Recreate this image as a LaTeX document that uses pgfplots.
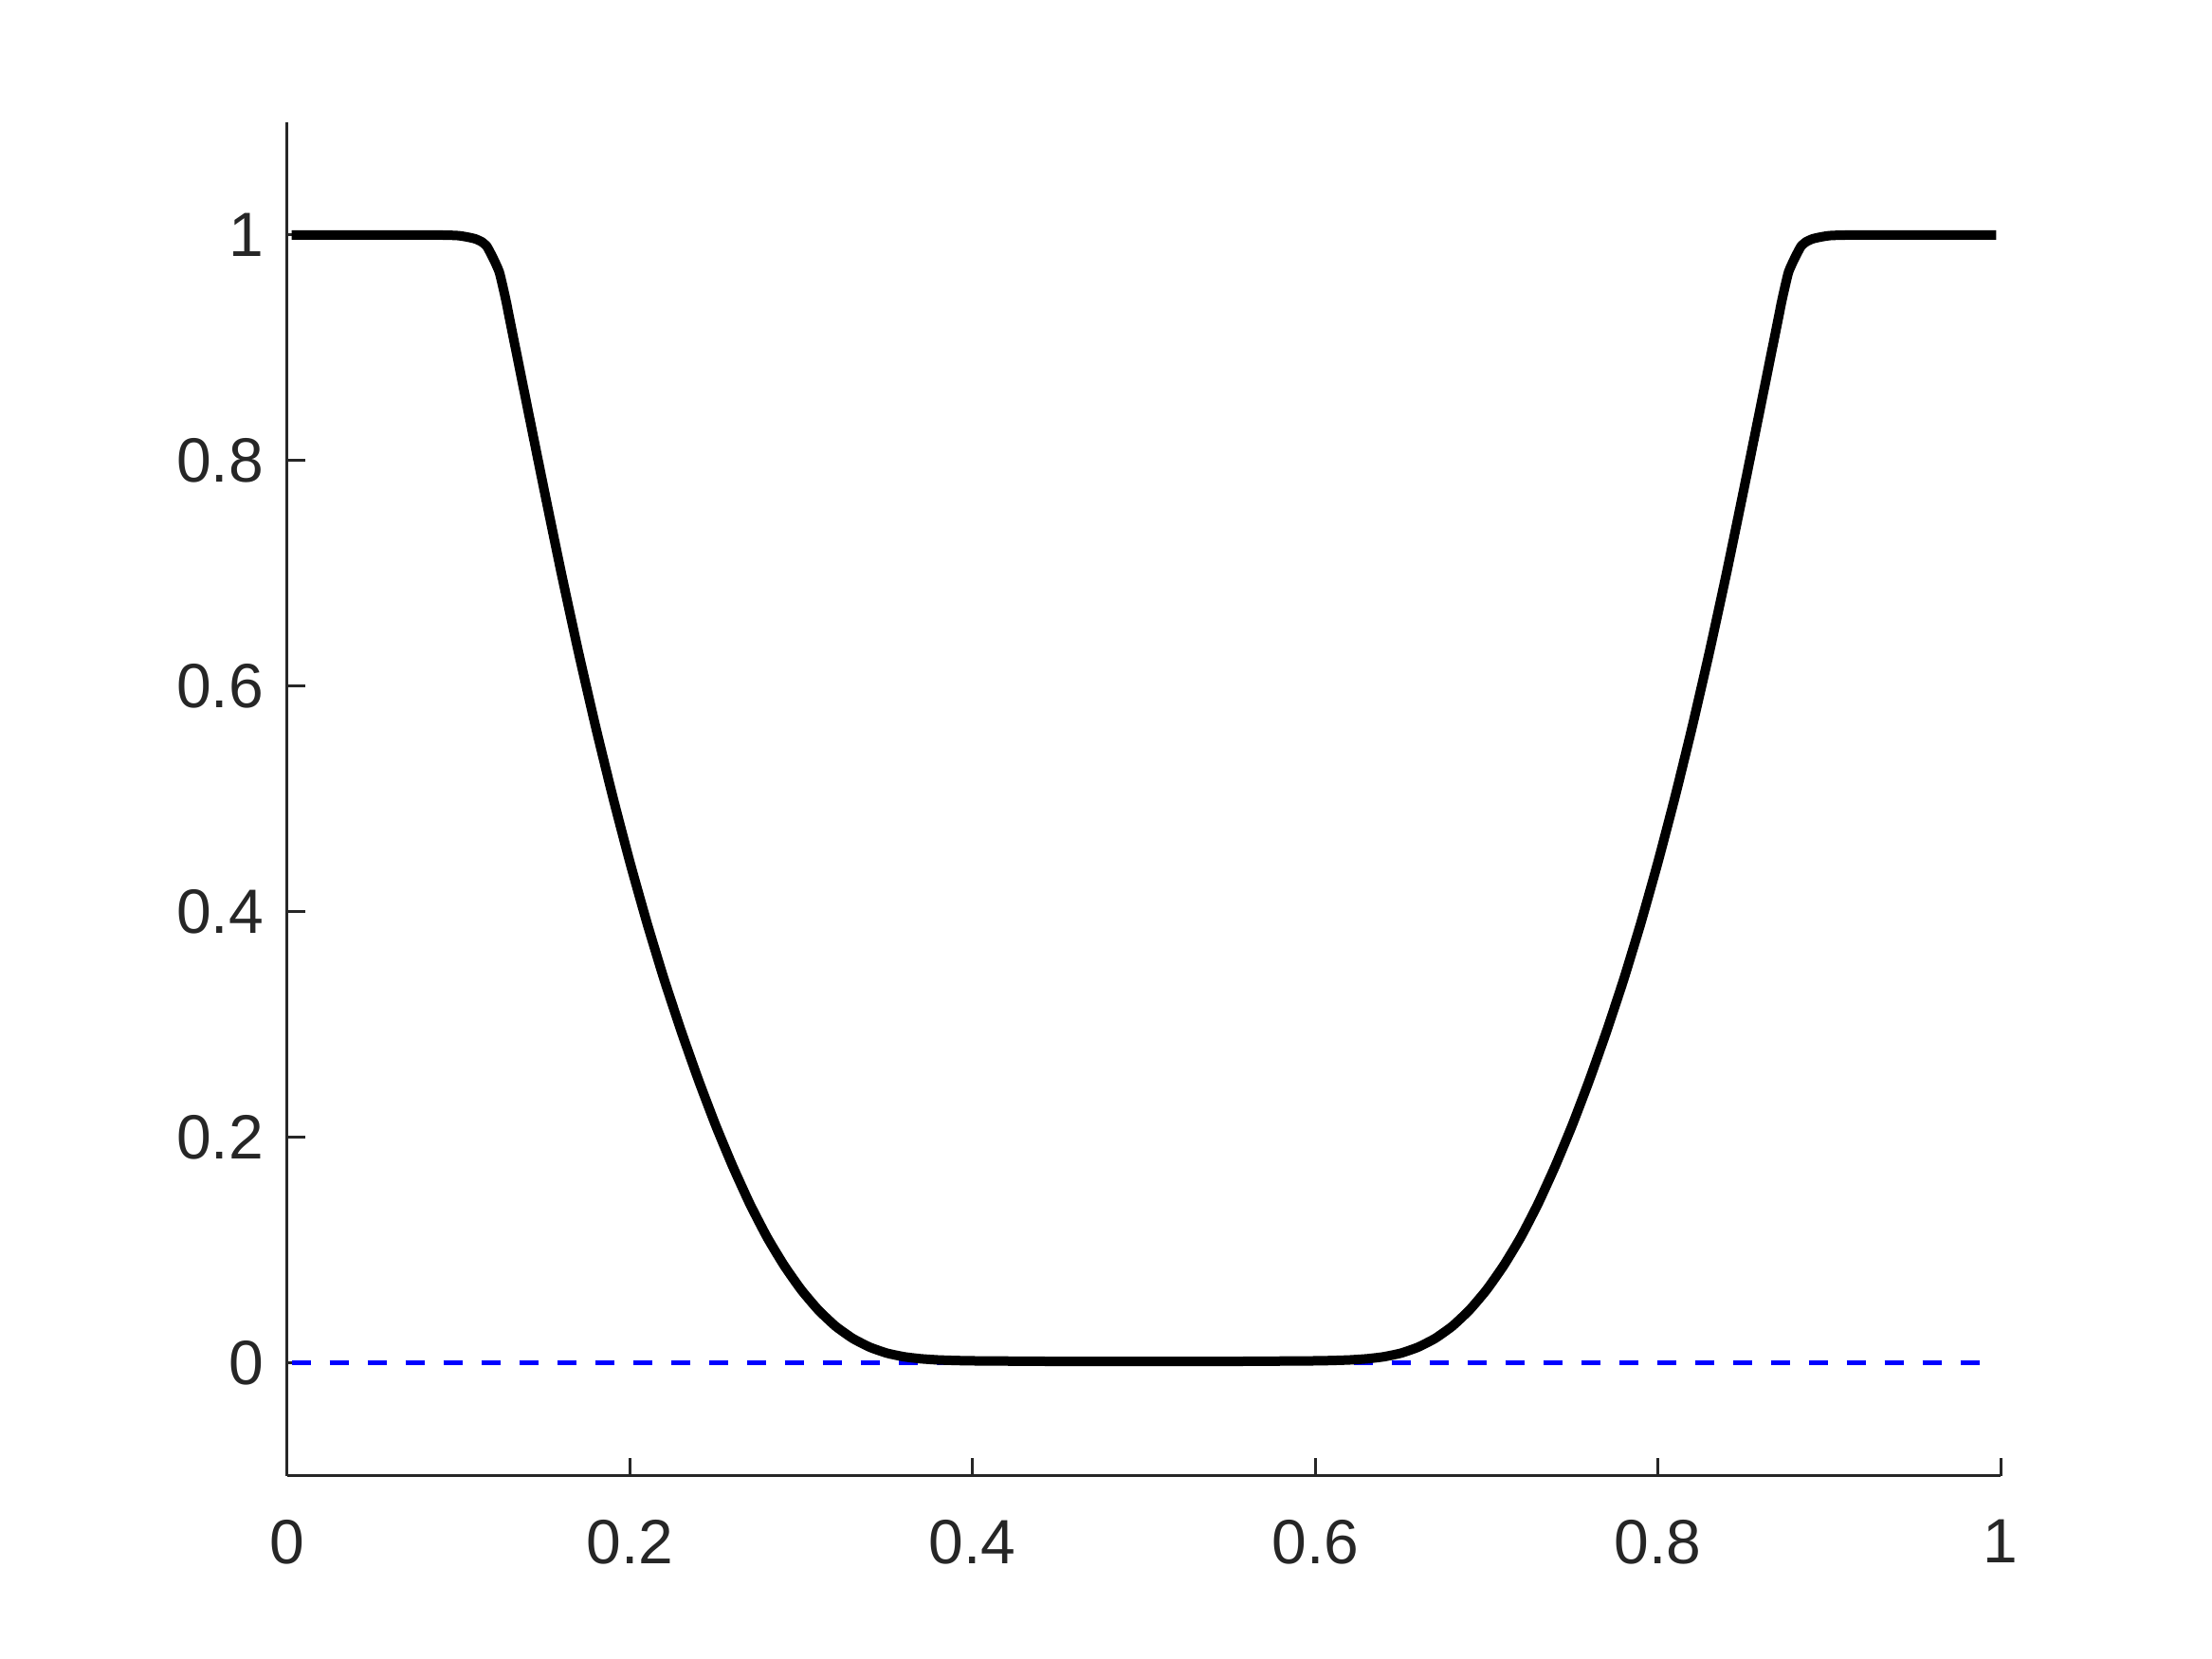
\documentclass[border=0pt]{standalone}
\usepackage{pgfplots}
\pgfplotsset{compat=1.18}
\usepackage{fontspec}
\setmainfont{Liberation Sans}
\definecolor{axgray}{rgb}{0.15,0.15,0.15}
\definecolor{mblue}{rgb}{0,0,1}
\begin{document}
\begin{tikzpicture}
\path[use as bounding box] (-60.6pt,-38.6pt) rectangle (406pt,311.4pt);
\begin{axis}[
  at={(0,0)}, anchor=south west,
  scale only axis,
  width=361.4pt, height=285.6pt,
  xmin=0, xmax=1, ymin=-0.1, ymax=1.1,
  axis lines=left,
  axis line style={-, color=axgray, line width=0.6pt},
  xtick={0,0.2,0.4,0.6,0.8,1},
  ytick={0,0.2,0.4,0.6,0.8,1},
  tick align=inside,
  major tick length=3.8pt,
  tick style={color=axgray, line width=0.6pt},
  /pgf/number format/assume math mode=true,
  ticklabel style={font=\fontsize{13.2}{15}\selectfont, text=axgray, inner sep=0pt},
  yticklabel style={anchor=east, xshift=-4.8pt},
  xticklabel style={anchor=north, yshift=-9pt},
  clip=false,
]
\addplot[mblue, line width=1pt, dash pattern=on 4pt off 4pt] coordinates {(0.0025,0) (0.9975,0)};
\addplot[black, line width=2pt, line join=round, smooth, tension=0.3] coordinates {
(0.0025,1.0) (0.05,1.0) (0.09,1.0) (0.100,0.9995) (0.106,0.998) (0.110,0.9965)
(0.1135,0.994) (0.1165,0.990) (0.120,0.980) (0.1238,0.967) (0.1275,0.943)
(0.13,0.924) (0.14,0.8485) (0.15,0.7735) (0.16,0.700) (0.17,0.630) (0.18,0.564)
(0.19,0.502) (0.20,0.444) (0.21,0.390) (0.22,0.340) (0.23,0.294) (0.24,0.251)
(0.25,0.211) (0.26,0.1745) (0.27,0.1412) (0.28,0.1118) (0.29,0.0866) (0.30,0.0650)
(0.31,0.0471) (0.32,0.0328) (0.33,0.0220) (0.34,0.0142) (0.35,0.0089) (0.36,0.0057)
(0.37,0.0039) (0.38,0.0029) (0.39,0.0024) (0.40,0.0021) (0.45,0.0016) (0.5,0.0015)
(0.55,0.0016) (0.60,0.0021) (0.61,0.0024) (0.62,0.0029) (0.63,0.0039) (0.64,0.0057)
(0.65,0.0089) (0.66,0.0142) (0.67,0.0220) (0.68,0.0328) (0.69,0.0471) (0.70,0.0650)
(0.71,0.0866) (0.72,0.1118) (0.73,0.1412) (0.74,0.1745) (0.75,0.211) (0.76,0.251)
(0.77,0.294) (0.78,0.340) (0.79,0.390) (0.80,0.444) (0.81,0.502) (0.82,0.564)
(0.83,0.630) (0.84,0.700) (0.85,0.7735) (0.86,0.8485) (0.87,0.924) (0.8725,0.943)
(0.8762,0.967) (0.880,0.980) (0.8835,0.990) (0.8865,0.994) (0.890,0.9965)
(0.894,0.998) (0.900,0.9995) (0.91,1.0) (0.95,1.0) (0.9975,1.0)
};
\end{axis}
\end{tikzpicture}
\end{document}
